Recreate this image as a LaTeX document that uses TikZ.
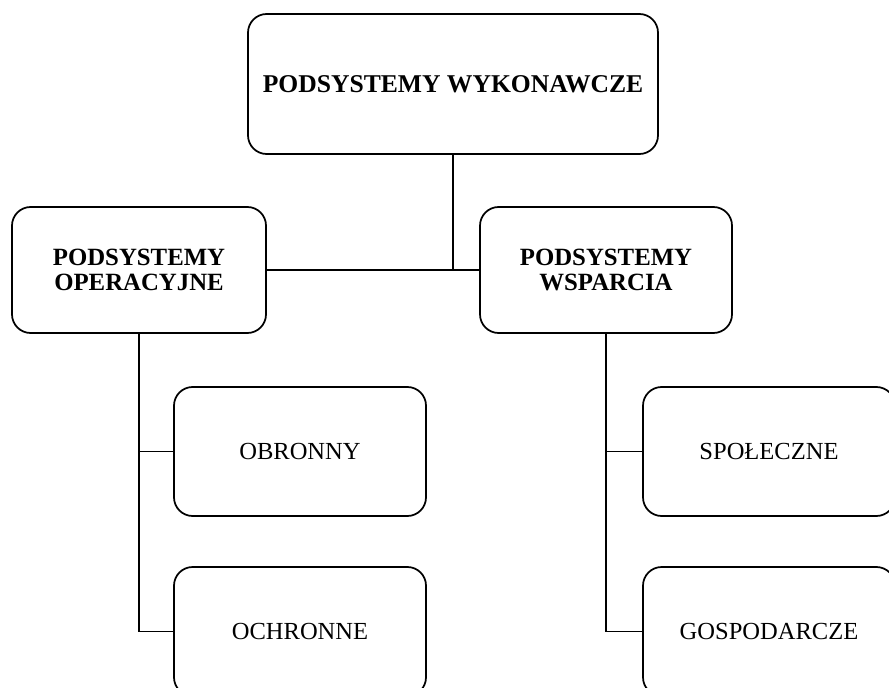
\documentclass[tikz,border=0pt]{standalone}
\usepackage{fontspec}
\setmainfont{Liberation Serif}

\begin{document}
\begin{tikzpicture}[x=0.75pt, y=-0.75pt,
    box/.style={draw, line width=1.3pt, rounded corners=14pt, align=center,
                minimum width=189pt, minimum height=96.75pt, inner sep=2pt,
                font=\fontsize{18.4}{19}\selectfont},
    headbox/.style={box, font=\fontsize{18.6}{19}\selectfont\bfseries},
    link/.style={line width=1.3pt}]

    % Fix the frame of the picture
    \useasboundingbox (0,0) rectangle (889,688);
    \clip (0,0) rectangle (889,688);

    % Top box
    \node[box, minimum width=307.5pt, minimum height=105pt,
          font=\fontsize{19.2}{20}\selectfont\bfseries] (wyk) at (453,84) {PODSYSTEMY WYKONAWCZE};

    % The two main groups
    \node[headbox, minimum width=190.5pt, minimum height=94.5pt] (oper) at (139,270) {PODSYSTEMY\\OPERACYJNE};
    \node[headbox, minimum height=94.5pt] (wsp) at (606,270) {PODSYSTEMY\\WSPARCIA};

    % Boxes under each group
    \node[box] (obr) at (300,451.5) {OBRONNY};
    \node[box] (och) at (300,631.5) {OCHRONNE};
    \node[box] (spo) at (769,451.5) {SPOŁECZNE};
    \node[box] (gos) at (769,631.5) {GOSPODARCZE};

    % Connectors
    \draw[link] (oper.east) -- (wsp.west);
    \draw[link] (wyk.south) -- (wyk.south |- wsp.west);
    \draw[link] (oper.south) |- (obr.west);
    \draw[link] (oper.south) |- (och.west);
    \draw[link] (wsp.south) |- (spo.west);
    \draw[link] (wsp.south) |- (gos.west);

\end{tikzpicture}
\end{document}
